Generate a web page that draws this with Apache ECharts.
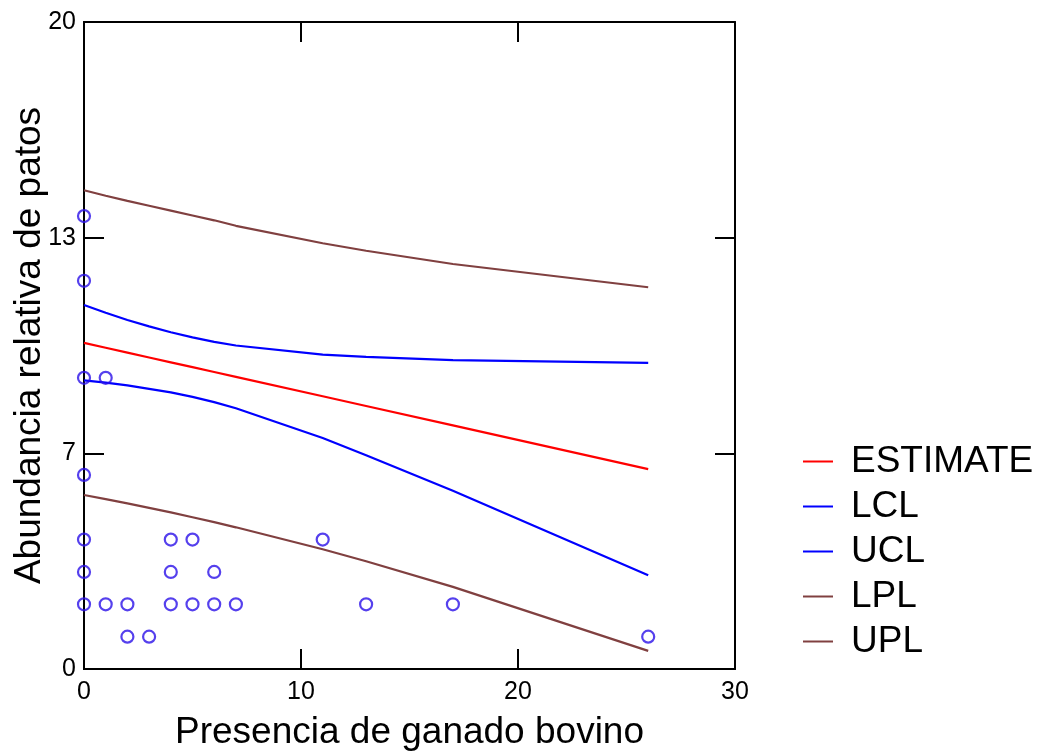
<!DOCTYPE html>
<html>
<head>
<meta charset="utf-8">
<script src="https://cdn.jsdelivr.net/npm/echarts@6/dist/echarts.min.js"></script>
<style>html,body{margin:0;padding:0;background:#fff}#c{width:1046px;height:753px}</style>
</head>
<body>
<div id="c"></div>
<script>
// Observed data points (x = Presencia de ganado bovino, y = Abundancia relativa de patos)
const obsX = [0,0,0,0,0,0,0, 1,1, 2,2, 3, 4,4,4, 5,5, 6,6, 7, 11, 13, 17, 26];
const obsY = [14,12,9,6,4,3,2, 9,2, 2,1, 1, 4,3,2, 4,2, 3,2, 2, 4, 2, 2, 1];

// Curve x positions
const curveX   = [0, 1, 2, 3, 4, 5, 6, 7, 11, 13, 17, 26];
const estimate = [10.08, 9.93, 9.78, 9.63, 9.48, 9.33, 9.18, 9.03, 8.43, 8.13, 7.53, 6.18];
const lcl      = [8.92, 8.85, 8.77, 8.66, 8.55, 8.41, 8.25, 8.06, 7.14, 6.61, 5.51, 2.90];
const ucl      = [11.25, 11.01, 10.79, 10.59, 10.41, 10.25, 10.11, 10.00, 9.72, 9.65, 9.55, 9.46];
const lpl      = [5.38, 5.25, 5.12, 4.98, 4.84, 4.69, 4.54, 4.38, 3.70, 3.33, 2.54, 0.56];
const upl      = [14.80, 14.63, 14.47, 14.32, 14.17, 14.02, 13.87, 13.70, 13.16, 12.93, 12.52, 11.80];

const seriesNames = ['ESTIMATE', 'LCL', 'UCL', 'LPL', 'UPL'];
const yTickLabels = ['0', '7', '13', '20'];
const xTickLabels = ['0', '10', '20', '30'];

const FONT = 'Liberation Sans, Arial, sans-serif';
const pair = (xs, ys) => xs.map((x, i) => [x, ys[i]]);

function lineSeries(name, ys, color, width) {
  return {
    name: name, type: 'line', data: pair(curveX, ys),
    xAxisIndex: 0, yAxisIndex: 0,
    showSymbol: false, symbol: 'none', smooth: false,
    lineStyle: { color: color, width: width },
    itemStyle: { color: color },
    emphasis: { disabled: true }, silent: true, animation: false, z: 3
  };
}
const mkLine = () => ({ show: true, onZero: false, lineStyle: { color: '#000', width: 2 } });
const mkTick = (inside) => ({ show: true, inside: inside, length: 20, lineStyle: { color: '#000', width: 2 } });
const GRID_L = 84, GRID_R = 311, GRID_T = 22, GRID_B = 84;
const PLOT_W = 1046 - GRID_L - GRID_R, PLOT_H = 753 - GRID_T - GRID_B;
const gridBox = () => ({ left: GRID_L, right: GRID_R, top: GRID_T, bottom: GRID_B, containLabel: false, outerBoundsMode: 'none' });
// tick-only mirror axes
const tickX = (gi, pos, inside, offset) => ({
  gridIndex: gi, type: 'value', min: 0, max: 30, interval: 10, position: pos, offset: offset,
  axisLine: mkLine(), axisTick: mkTick(inside), splitLine: { show: false }, axisLabel: { show: false }
});
const tickY = (gi, pos, inside, offset) => ({
  gridIndex: gi, type: 'value', min: 0, max: 20, interval: 20 / 3, position: pos, offset: offset,
  axisLine: mkLine(), axisTick: mkTick(inside), splitLine: { show: false }, axisLabel: { show: false }
});

const chart = echarts.init(document.getElementById('c'), null, { renderer: 'canvas' });
chart.setOption({
  animation: false,
  backgroundColor: '#fff',
  grid: [gridBox(), gridBox(), gridBox()],
  legend: {
    data: seriesNames,
    orient: 'vertical', left: 803, top: 443, padding: 0,
    itemWidth: 30, itemHeight: 2, itemGap: 8,
    icon: 'rect',
    textStyle: { fontFamily: FONT, fontSize: 37, color: '#000', lineHeight: 37, padding: [0, 0, 0, 13] },
    selectedMode: false
  },
  xAxis: [{
    gridIndex: 0, type: 'value', min: 0, max: 30, interval: 10, position: 'bottom',
    name: 'Presencia de ganado bovino', nameLocation: 'middle', nameGap: 45, nameMoveOverlap: false,
    nameTextStyle: { fontFamily: FONT, fontSize: 37, color: '#000' },
    axisLine: mkLine(), axisTick: { show: false }, splitLine: { show: false },
    axisLabel: { margin: 11, fontFamily: FONT, fontSize: 25, color: '#000',
      formatter: (v) => xTickLabels[Math.round(v / 10)] }
  },
  tickX(1, 'top', true, 0),
  tickX(2, 'top', false, -PLOT_H)],
  yAxis: [{
    gridIndex: 0, type: 'value', min: 0, max: 20, interval: 20 / 3, position: 'left',
    name: 'Abundancia relativa de patos', nameLocation: 'middle', nameGap: 36, nameMoveOverlap: false,
    nameTextStyle: { fontFamily: FONT, fontSize: 37, color: '#000' },
    axisLine: mkLine(), axisTick: { show: false }, splitLine: { show: false },
    axisLabel: { margin: 8, fontFamily: FONT, fontSize: 25, color: '#000',
      formatter: (v) => yTickLabels[Math.round(v / (20 / 3))] }
  },
  tickY(1, 'right', true, 0),
  tickY(2, 'right', false, -PLOT_W)],
  series: [
    lineSeries('ESTIMATE', estimate, '#ff0000', 2.2),
    lineSeries('LCL', lcl, '#0000ff', 2.2),
    lineSeries('UCL', ucl, '#0000ff', 2.2),
    lineSeries('LPL', lpl, '#804040', 2.2),
    lineSeries('UPL', upl, '#804040', 2.2),
    {
      name: 'obs', type: 'scatter', data: pair(obsX, obsY),
      xAxisIndex: 0, yAxisIndex: 0,
      symbol: 'circle', symbolSize: 12,
      itemStyle: { color: 'transparent', borderColor: '#2a10e8', borderWidth: 2.2 },
      emphasis: { disabled: true }, silent: true, z: 4
    }
  ]
});
</script>
</body>
</html>
